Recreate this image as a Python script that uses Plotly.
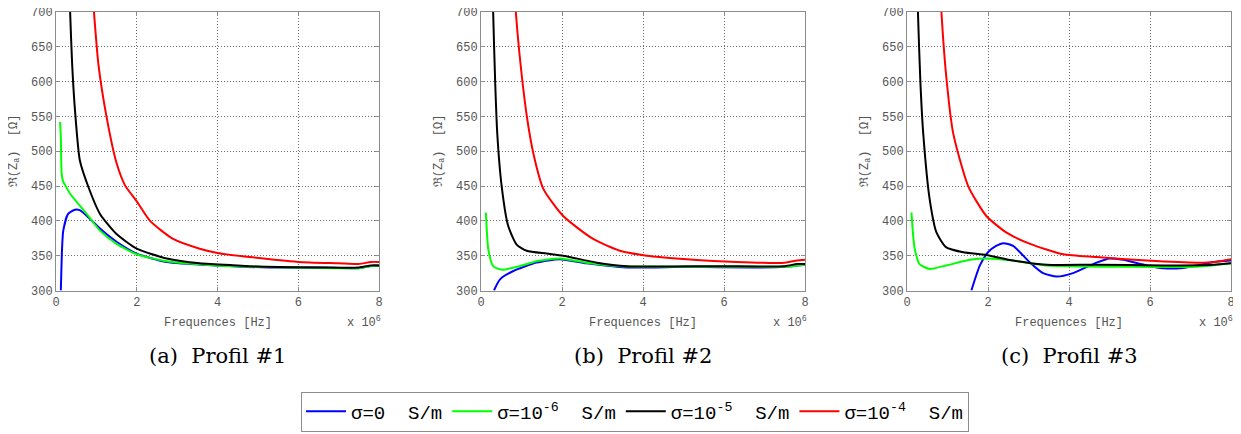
import plotly.graph_objects as go

# ---------------- data (x in units of 1e6 Hz, y in Ohm) ----------------
x1_blue = [0.12, 0.15, 0.18, 0.3, 0.47, 0.6, 0.84, 1.09, 1.5, 2.0, 2.74, 4.0, 5.3, 6.5, 7.5, 7.8, 8.0]
y1_blue = [300, 360, 386, 410, 416, 415, 403, 389, 370, 353, 341, 336, 333, 333, 332, 335, 336]
x1_green = [0.1, 0.12, 0.14, 0.18, 0.22, 0.35, 0.76, 1.09, 1.5, 2.0, 2.74, 3.98, 5.0, 6.0, 7.5, 7.8, 8.0]
y1_green = [542, 520, 468, 456, 452, 439, 410, 386, 367, 352, 342, 336, 334, 333, 332, 335, 336]
x1_black = [0.32, 0.35, 0.4, 0.47, 0.59, 0.8, 1.09, 1.5, 2.0, 2.74, 3.56, 4.5, 5.2, 6.5, 7.5, 7.8, 8.0]
y1_black = [760, 700, 625, 559, 487, 449, 410, 381, 360, 346, 339, 336, 334, 333, 333, 336, 336]
x1_red = [0.85, 0.94, 1.05, 1.25, 1.5, 1.71, 2.0, 2.33, 2.9, 3.56, 4.0, 4.8, 6.0, 7.0, 7.5, 7.8, 8.0]
y1_red = [770, 700, 625, 550, 483, 451, 428, 400, 374, 360, 354, 348, 341, 339, 338, 341, 341]

x2_blue = [0.32, 0.47, 0.8, 1.37, 1.95, 2.6, 3.6, 5.08, 6.7, 7.5, 8.0]
y2_blue = [300, 316, 328, 340, 345, 339, 333, 334, 333, 334, 337]
x2_green = [0.12, 0.15, 0.18, 0.3, 0.51, 0.96, 1.37, 1.95, 2.6, 3.43, 5.08, 6.7, 7.5, 8.0]
y2_green = [412, 380, 359, 335, 330, 335, 342, 346, 340, 335, 334, 334, 334, 337]
x2_black = [0.28, 0.3, 0.35, 0.4, 0.51, 0.67, 0.88, 1.13, 1.62, 2.03, 2.86, 3.6, 5.9, 7.5, 7.8, 8.0]
y2_black = [760, 700, 600, 527, 450, 393, 366, 357, 353, 350, 340, 335, 335, 335, 338, 338]
x2_red = [0.8, 0.86, 0.95, 1.13, 1.3, 1.54, 2.03, 2.77, 3.43, 4.09, 5.08, 6.3, 7.5, 7.8, 8.0]
y2_red = [760, 700, 640, 551, 495, 446, 407, 374, 357, 350, 345, 341, 340, 343, 344]

x3_blue = [1.59, 1.8, 2.0, 2.2, 2.38, 2.62, 3.04, 3.36, 3.7, 4.1, 4.68, 5.0, 5.34, 5.92, 6.33, 6.75, 7.16, 7.57, 8.0]
y3_blue = [300, 336, 355, 364, 368, 364, 340, 325, 320, 325, 340, 346, 344, 336, 332, 332, 336, 341, 343]
x3_green = [0.11, 0.15, 0.19, 0.31, 0.56, 0.97, 1.55, 1.96, 2.62, 3.45, 5.5, 7.16, 8.0]
y3_green = [412, 380, 360, 338, 331, 336, 344, 346, 343, 336, 334, 334, 339]
x3_black = [0.25, 0.27, 0.33, 0.4, 0.56, 0.73, 0.97, 1.39, 1.96, 2.62, 3.45, 4.68, 6.33, 7.57, 8.0]
y3_black = [760, 700, 600, 526, 431, 383, 362, 355, 351, 343, 337, 337, 336, 337, 339]
x3_red = [0.8, 0.85, 0.97, 1.14, 1.51, 1.96, 2.46, 3.04, 3.86, 4.68, 5.92, 7.16, 7.6, 8.0]
y3_red = [760, 700, 607, 526, 450, 407, 383, 367, 352, 348, 343, 340, 341, 345]

series_names = ["σ=0  S/m", "σ=10<sup>-6</sup>  S/m", "σ=10<sup>-5</sup>  S/m", "σ=10<sup>-4</sup>  S/m"]
series_colors = ["#0000FF", "#00FF00", "#000000", "#FF0000"]
captions = ["(a)  Profil #1", "(b)  Profil #2", "(c)  Profil #3"]
x_ticks = [0, 2, 4, 6, 8]
x_tick_labels = ["0", "2", "4", "6", "8"]
y_ticks = [300, 350, 400, 450, 500, 550, 600, 650, 700]
y_tick_labels = [str(v) for v in y_ticks]

panels = [
    [(x1_blue, y1_blue), (x1_green, y1_green), (x1_black, y1_black), (x1_red, y1_red)],
    [(x2_blue, y2_blue), (x2_green, y2_green), (x2_black, y2_black), (x2_red, y2_red)],
    [(x3_blue, y3_blue), (x3_green, y3_green), (x3_black, y3_black), (x3_red, y3_red)],
]

# page body has an 8px margin: figure is sized to fill the window after that offset
OFF = 8
W, H = 1241 - OFF, 434 - OFF


def fx(px):
    return (px - OFF) / W


def fy(py):
    return 1 - (py - OFF) / H


x_domains = [(fx(56), fx(379)), (fx(481), fx(805)), (fx(907), fx(1231))]
y_domain = (fy(290.5), fy(12))

fig = go.Figure()
mono = "Liberation Mono"
grey = "#555555"

for p, data in enumerate(panels):
    ax = "" if p == 0 else str(p + 1)
    for s, (xs, ys) in enumerate(data):
        fig.add_trace(go.Scatter(
            x=xs, y=ys, mode="lines", name=series_names[s],
            line=dict(color=series_colors[s], width=2, shape="spline", smoothing=0.6),
            xaxis="x" + ax, yaxis="y" + ax,
            legendgroup=str(s), showlegend=(p == 0),
        ))
    common = dict(showline=True, linecolor="#8c8c8c", linewidth=1, mirror="ticks",
                  ticks="inside", ticklen=4, tickcolor="#8c8c8c", automargin=False,
                  ticklabeloverflow="allow",
                  showgrid=True, gridcolor="#707070", griddash="1px,2px", gridwidth=1,
                  zeroline=False, tickfont=dict(family=mono, size=12, color=grey))
    fig.update_layout(**{
        "xaxis" + ax: dict(domain=list(x_domains[p]), range=[0, 8], anchor="y" + ax,
                           tickvals=x_ticks, ticktext=x_tick_labels, **common),
        "yaxis" + ax: dict(domain=list(y_domain), range=[300, 700], anchor="x" + ax,
                           tickvals=y_ticks, ticktext=y_tick_labels, **common),
    })
    x0, x1 = x_domains[p]
    xc = (x0 + x1) / 2
    fig.add_annotation(x=xc, y=fy(323), xref="paper", yref="paper", text="Frequences [Hz]",
                       xanchor="center", yanchor="middle",
                       showarrow=False, font=dict(family=mono, size=12, color=grey))
    fig.add_annotation(x=x1, xshift=4, y=fy(322), xref="paper", yref="paper", text="x 10<sup>6</sup>",
                       xanchor="right", yanchor="middle",
                       showarrow=False, font=dict(family=mono, size=12, color=grey))
    fig.add_annotation(x=x0, xshift=-41, y=(y_domain[0] + y_domain[1]) / 2, xref="paper", yref="paper",
                       text="ℜ(Z<sub>a</sub>)  [Ω]", textangle=-90, showarrow=False,
                       xanchor="center", yanchor="middle",
                       font=dict(family=mono, size=12, color=grey))
    fig.add_annotation(x=xc, y=fy(356), xref="paper", yref="paper", text=captions[p],
                       xanchor="center", yanchor="middle",
                       showarrow=False, font=dict(family="DejaVu Serif", size=21, color="#000000"))

fig.update_layout(
    width=W, height=H, margin=dict(l=0, r=0, t=0, b=0),
    paper_bgcolor="white", plot_bgcolor="white",
    legend=dict(orientation="h", x=fx(635), xanchor="center", y=fy(411.5), yanchor="middle",
                bordercolor="#8c8c8c", borderwidth=1, bgcolor="white",
                font=dict(family=mono, size=19, color="#000000"),
                itemwidth=40, tracegroupgap=0),
)

fig.write_html("out.html")
